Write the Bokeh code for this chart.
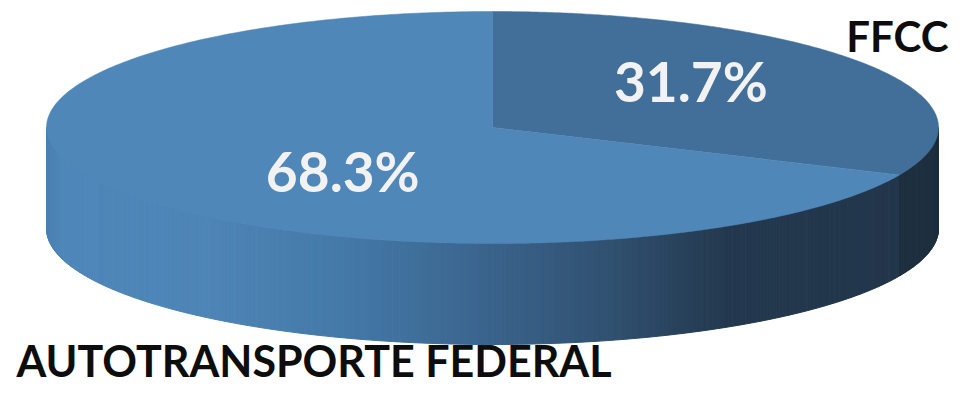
import numpy as np
from bokeh.plotting import figure
from bokeh.models import Range1d
from bokeh.core.properties import value
from bokeh.embed import file_html
from bokeh.resources import INLINE

# ---- data (clockwise from 12 o'clock) ----
categories = ["FFCC", "AUTOTRANSPORTE FEDERAL"]
shares = [31.7, 68.3]
pct_labels = ["31.7%", "68.3%"]

# ---- layout ----
W, H = 950, 386
p = figure(width=W, height=H, x_range=Range1d(0, W), y_range=Range1d(H, 0),
           output_backend="svg", toolbar_location=None, min_border=0)
p.axis.visible = False
p.grid.visible = False
p.outline_line_color = None
p.background_fill_color = "white"
p.border_fill_color = "white"

cx, cy, a, b, depth = 492.0, 127.0, 446.0, 116.0, 101.0
top_colors = ["#426f99", "#4f87b8"]


def hex2rgb(h):
    h = h.lstrip("#")
    return np.array([int(h[i:i + 2], 16) for i in (0, 2, 4)], dtype=float)


def rgb2hex(c):
    return "#%02x%02x%02x" % tuple(int(round(v)) for v in c)


# side gradient stops (x position -> colour)
side_stops_x = [46, 63, 206, 344, 465, 614, 729, 900]
side_stops_c = ["#4a80b0", "#4e87b8", "#4d85b6", "#4479a8", "#3c6791", "#30506f", "#23384e", "#22364b"]
side_stops_rgb = np.array([hex2rgb(c) for c in side_stops_c])


def side_color(slice_idx, x):
    if slice_idx == 0:
        return "#1e2f3f"
    rgb = [np.interp(x, side_stops_x, side_stops_rgb[:, k]) for k in range(3)]
    return rgb2hex(rgb)


fr = np.array(shares) / sum(shares)
cum = np.concatenate([[0], np.cumsum(fr)])
t_start = 90 - 360 * cum[:-1]
t_end = 90 - 360 * cum[1:]


def ex(t):
    return cx + a * np.cos(np.radians(t))


def ey(t):
    return cy - b * np.sin(np.radians(t))


def slice_of(t):
    u = (90 - t) % 360 / 360.0
    return int(np.searchsorted(cum[1:], u, side="right"))


# ---- visible front side, split into gradient strips ----
grid = list(np.linspace(-180, 0, 361))
for te in t_end:
    tt = ((te + 180) % 360) - 180
    if -180 < tt < 0:
        grid.append(tt)
grid = np.unique(np.array(grid))

sx, sy, sc = [], [], []
for t1, t2 in zip(grid[:-1], grid[1:]):
    tm = 0.5 * (t1 + t2)
    k = slice_of(tm)
    xs = [ex(t1), ex(t2), ex(t2), ex(t1)]
    ys = [ey(t1), ey(t2), ey(t2) + depth, ey(t1) + depth]
    sx.append(xs)
    sy.append(ys)
    sc.append(side_color(k, ex(tm)))
p.patches(sx, sy, fill_color=sc, line_color=sc, line_width=1)

# ---- top faces ----
for k in range(len(shares)):
    ts = np.linspace(t_start[k], t_end[k], 300)
    xs = [cx] + list(ex(ts))
    ys = [cy] + list(ey(ts))
    p.patch(xs, ys, fill_color=top_colors[k], line_color=top_colors[k], line_width=0.5)

# ---- percentage labels ----
mid = 0.5 * (t_start + t_end)
lbl_r = [0.53, 0.40]
lbl_dy = [-13, 18]
lx = [cx + (ex(m) - cx) * r for m, r in zip(mid, lbl_r)]
ly = [cy + (ey(m) - cy) * r + d for m, r, d in zip(mid, lbl_r, lbl_dy)]
p.text(x=lx, y=ly, text=pct_labels, text_align="center", text_baseline="middle",
       text_color="#f2f2f2", text_font=value("Lato"), text_font_style="bold",
       text_font_size="55px")

# ---- category labels ----
p.text(x=[W - 2], y=[35], text=[categories[0]], text_align="right", text_baseline="middle",
       text_color="#0d0d0d", text_font=value("Lato"), text_font_style="bold", text_font_size="42px")
p.text(x=[16], y=[385], text=[categories[1]], text_align="left", text_baseline="bottom",
       text_color="#0d0d0d", text_font=value("Lato"), text_font_style="bold", text_font_size="43px")

open("out.html", "w").write(file_html(p, INLINE))
